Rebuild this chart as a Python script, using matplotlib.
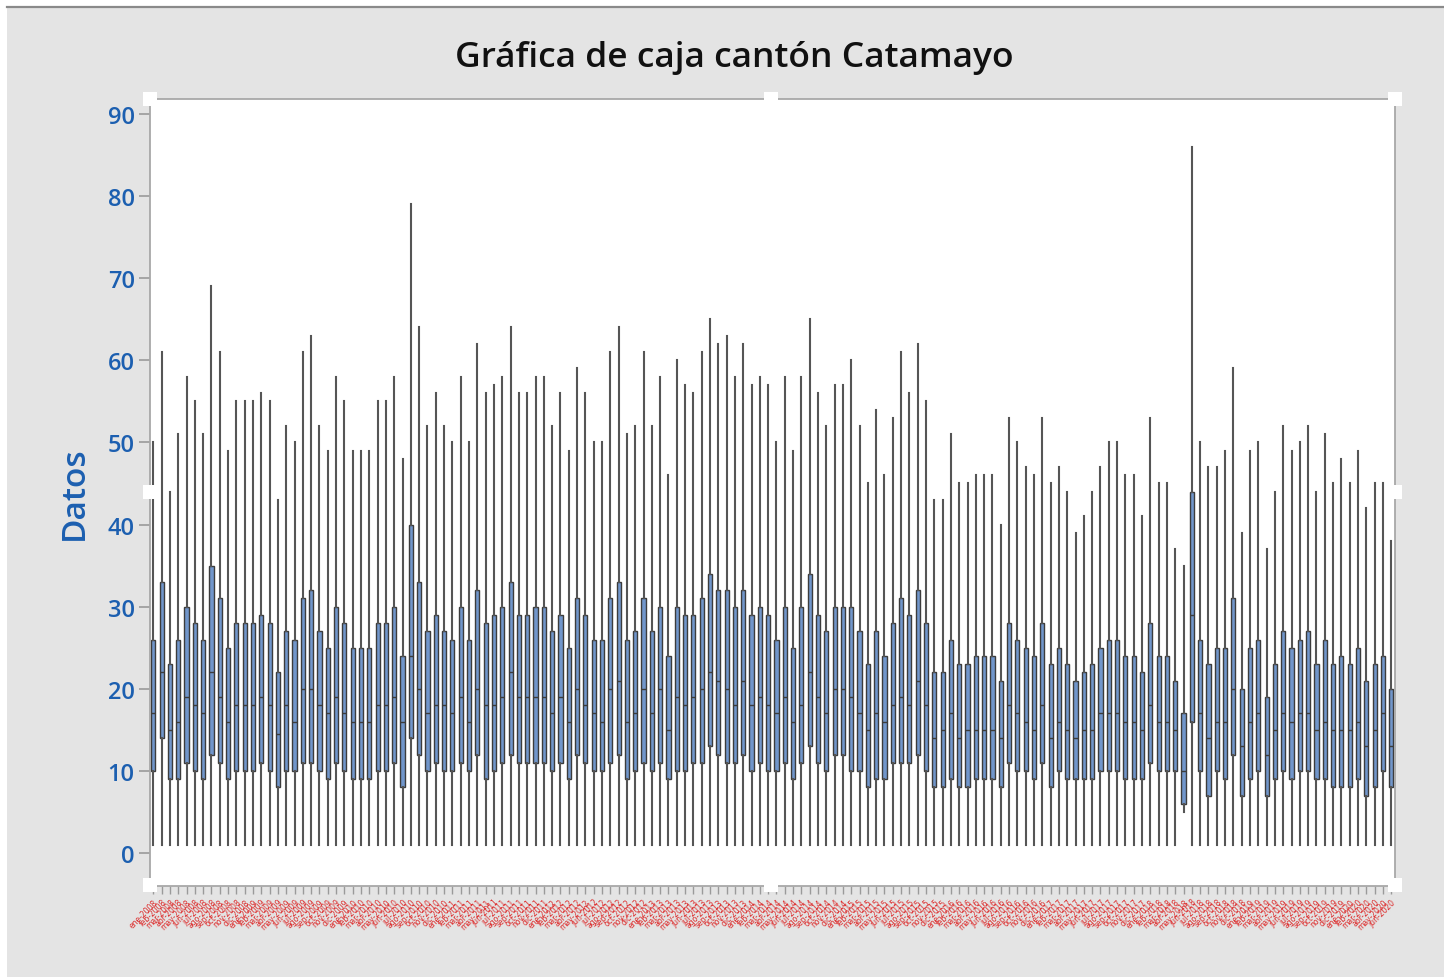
import matplotlib
matplotlib.use('Agg')
import matplotlib.pyplot as plt
from matplotlib.patches import Rectangle
from matplotlib.lines import Line2D

# Datos (150 cajas, una por mes)
meses = ['ene', 'feb', 'mar', 'abr', 'may', 'jun', 'jul', 'ago', 'sep', 'oct', 'nov', 'dic']
anios = [2008, 2009, 2010, 2011, 2012, 2013, 2014, 2015, 2016, 2017, 2018, 2019, 2020]
etiquetas = [f"{m}-{a}" for a in anios for m in meses][:150]

bigote_sup = [50, 61, 44, 51, 58, 55, 51, 69, 61, 49,
              55, 55, 55, 56, 55, 43, 52, 50, 61, 63,
              52, 49, 58, 55, 49, 49, 49, 55, 55, 58,
              48, 79, 64, 52, 56, 52, 50, 58, 50, 62,
              56, 57, 58, 64, 56, 56, 58, 58, 52, 56,
              49, 59, 56, 50, 50, 61, 64, 51, 52, 61,
              52, 58, 46, 60, 57, 56, 61, 65, 62, 63,
              58, 62, 57, 58, 57, 50, 58, 49, 58, 65,
              56, 52, 57, 57, 60, 52, 45, 54, 46, 53,
              61, 56, 62, 55, 43, 43, 51, 45, 45, 46,
              46, 46, 40, 53, 50, 47, 46, 53, 45, 47,
              44, 39, 41, 44, 47, 50, 50, 46, 46, 41,
              53, 45, 45, 37, 35, 86, 50, 47, 47, 49,
              59, 39, 49, 50, 37, 44, 52, 49, 50, 52,
              44, 51, 45, 48, 45, 49, 42, 45, 45, 38]

q3 = [26, 33, 23, 26, 30, 28, 26, 35, 31, 25,
      28, 28, 28, 29, 28, 22, 27, 26, 31, 32,
      27, 25, 30, 28, 25, 25, 25, 28, 28, 30,
      24, 40, 33, 27, 29, 27, 26, 30, 26, 32,
      28, 29, 30, 33, 29, 29, 30, 30, 27, 29,
      25, 31, 29, 26, 26, 31, 33, 26, 27, 31,
      27, 30, 24, 30, 29, 29, 31, 34, 32, 32,
      30, 32, 29, 30, 29, 26, 30, 25, 30, 34,
      29, 27, 30, 30, 30, 27, 23, 27, 24, 28,
      31, 29, 32, 28, 22, 22, 26, 23, 23, 24,
      24, 24, 21, 28, 26, 25, 24, 28, 23, 25,
      23, 21, 22, 23, 25, 26, 26, 24, 24, 22,
      28, 24, 24, 21, 17, 44, 26, 23, 25, 25,
      31, 20, 25, 26, 19, 23, 27, 25, 26, 27,
      23, 26, 23, 24, 23, 25, 21, 23, 24, 20]

mediana = [17, 22, 15, 16, 19, 18, 17, 22, 19, 16,
           18, 18, 18, 19, 18, 14.5, 18, 16, 20, 20,
           18, 17, 19, 17, 16, 16, 16, 18, 18, 19,
           16, 24, 20, 17, 18, 18, 17, 19, 16, 20,
           18, 18, 19, 22, 19, 19, 19, 19, 17, 19,
           16, 20, 18, 17, 16, 20, 21, 16, 17, 20,
           17, 20, 15, 19, 18, 19, 20, 22, 21, 20,
           18, 21, 18, 19, 18, 17, 19, 16, 18, 22,
           19, 17, 20, 20, 19, 17, 15, 17, 16, 18,
           19, 18, 21, 18, 14, 15, 17, 14, 15, 15,
           15, 15, 14, 18, 17, 16, 15, 18, 14, 16,
           15, 14, 15, 15, 17, 17, 17, 16, 16, 15,
           18, 16, 16, 15, 10, 29, 17, 14, 16, 16,
           20, 13, 16, 17, 12, 15, 17, 16, 17, 17,
           15, 16, 15, 15, 15, 16, 13, 15, 17, 13]

q1 = [10, 14, 9, 9, 11, 10, 9, 12, 11, 9,
      10, 10, 10, 11, 10, 8, 10, 10, 11, 11,
      10, 9, 11, 10, 9, 9, 9, 10, 10, 11,
      8, 14, 12, 10, 11, 10, 10, 11, 10, 12,
      9, 10, 11, 12, 11, 11, 11, 11, 10, 11,
      9, 12, 11, 10, 10, 11, 12, 9, 10, 11,
      10, 11, 9, 10, 10, 11, 11, 13, 12, 11,
      11, 12, 10, 11, 10, 10, 11, 9, 11, 13,
      11, 10, 12, 12, 10, 10, 8, 9, 9, 11,
      11, 11, 12, 10, 8, 8, 9, 8, 8, 9,
      9, 9, 8, 11, 10, 10, 9, 11, 8, 10,
      9, 9, 9, 9, 10, 10, 10, 9, 9, 9,
      11, 10, 10, 10, 6, 16, 10, 7, 10, 9,
      12, 7, 9, 10, 7, 9, 10, 9, 10, 10,
      9, 9, 8, 8, 8, 9, 7, 8, 10, 8]

bigote_inf = [1, 1, 1, 1, 1, 1, 1, 1, 1, 1,
              1, 1, 1, 1, 1, 1, 1, 1, 1, 1,
              1, 1, 1, 1, 1, 1, 1, 1, 1, 1,
              1, 1, 1, 1, 1, 1, 1, 1, 1, 1,
              1, 1, 1, 1, 1, 1, 1, 1, 1, 1,
              1, 1, 1, 1, 1, 1, 1, 1, 1, 1,
              1, 1, 1, 1, 1, 1, 1, 1, 1, 1,
              1, 1, 1, 1, 1, 1, 1, 1, 1, 1,
              1, 1, 1, 1, 1, 1, 1, 1, 1, 1,
              1, 1, 1, 1, 1, 1, 1, 1, 1, 1,
              1, 1, 1, 1, 1, 1, 1, 1, 1, 1,
              1, 1, 1, 1, 1, 1, 1, 1, 1, 1,
              1, 1, 1, 1, 5, 1, 1, 1, 1, 1,
              1, 1, 1, 1, 1, 1, 1, 1, 1, 1,
              1, 1, 1, 1, 1, 1, 1, 1, 1, 1]

BG = '#e4e4e4'
AZUL = '#1c5fb0'

fig = plt.figure(figsize=(14.44, 9.78), dpi=100, facecolor='white')

# fondo gris con franja blanca a la izquierda y arriba
fig.patches.append(Rectangle((7 / 1444, 0), 1, 1 - 8 / 978, transform=fig.transFigure,
                             facecolor=BG, edgecolor='none', zorder=-10))
fig.lines.append(Line2D([7 / 1444, 1], [1 - 7.5 / 978] * 2, transform=fig.transFigure,
                        color='#8a8a8a', lw=1.6))

ax = fig.add_axes([150 / 1444, 91 / 978, 1245 / 1444, 787 / 978])
ax.set_facecolor('white')

stats = []
for i in range(len(q3)):
    stats.append({'whislo': bigote_inf[i], 'q1': q1[i], 'med': mediana[i],
                  'q3': q3[i], 'whishi': bigote_sup[i], 'fliers': [], 'label': etiquetas[i]})

ax.bxp(stats, positions=range(1, len(stats) + 1), widths=0.5, patch_artist=True,
       showcaps=False, showfliers=False,
       boxprops=dict(facecolor='#7196cb', edgecolor='#3c3c3c', linewidth=1.0),
       whiskerprops=dict(color='#555555', linewidth=1.5),
       medianprops=dict(color='#3c3c3c', linewidth=1.0))

ax.set_xlim(0.6, 150.45)
ax.set_ylim(-4.0, 91.8)
ax.set_yticks(range(0, 91, 10))

for s in ax.spines.values():
    s.set_color('#a8a8a8')
    s.set_linewidth(1.3)

ax.tick_params(axis='y', colors='#9a9a9a', length=8, width=1.2, labelsize=17,
               labelcolor=AZUL, pad=3)
ax.tick_params(axis='x', colors='#9a9a9a', length=6, width=1.0, labelsize=5.5,
               labelcolor='#dd2a2a', pad=2)
ax.set_xticks(range(1, len(etiquetas) + 1))
ax.set_xticklabels(etiquetas, rotation=45, ha='right', rotation_mode='anchor')

for lab in ax.get_yticklabels():
    lab.set_family('Open Sans')
    lab.set_weight('semibold')

ax.set_ylabel('Datos', color=AZUL, fontsize=24, family='Open Sans', weight='semibold',
              labelpad=12)
fig.text(734 / 1444, 1 - 58 / 978, 'Gráfica de caja cantón Catamayo', ha='center',
         va='center', fontsize=25.5, family='Open Sans', weight='semibold', color='#111111')

# cuadritos blancos de seleccion (estilo Minitab)
for px, py in [(150, 100), (771, 100), (1395, 100), (150, 493), (1395, 493),
               (150, 886), (771, 886), (1395, 886)]:
    fig.patches.append(Rectangle(((px - 7) / 1444, 1 - (py + 7) / 978), 14 / 1444, 14 / 978,
                                 transform=fig.transFigure, facecolor='white',
                                 edgecolor='none', zorder=10))

plt.savefig('out.png', dpi=100, facecolor=fig.get_facecolor())
